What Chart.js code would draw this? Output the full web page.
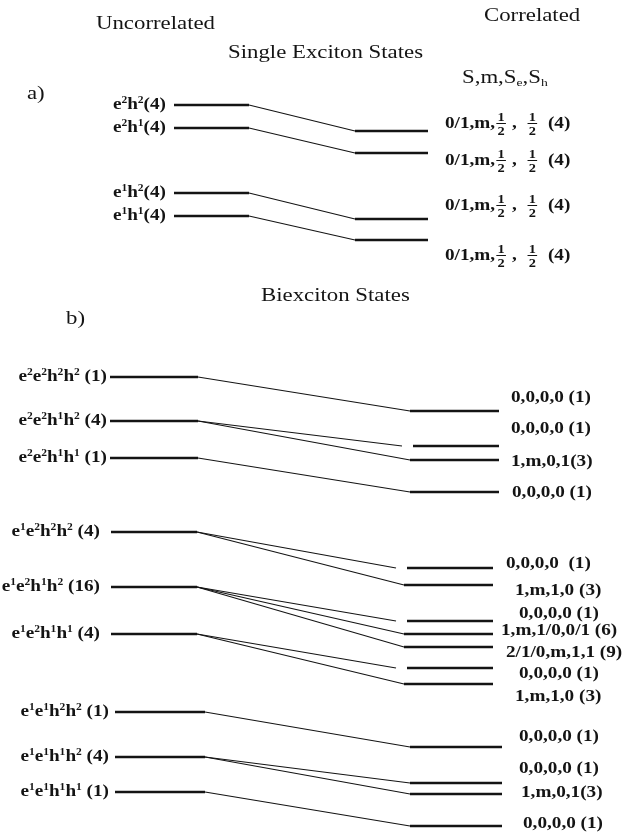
<!DOCTYPE html>
<html>
<head>
<meta charset="utf-8">
<script src="https://cdn.jsdelivr.net/npm/chart.js@4.4.1/dist/chart.umd.min.js"></script>
<style>
  body { margin: 0; background: #fff; }
  #wrap { width: 641px; height: 835px; }
</style>
</head>
<body>
<div id="wrap"><canvas id="levels" width="641" height="835"></canvas></div>
<script>
// data: level energies (same vertical units as the page, downward = lower energy)
// a) single exciton states
const singleUncorr = [105, 128, 193, 216];
const singleCorr = [131, 153, 219, 240];
const singleLinks = [[0, 0], [1, 1], [2, 2], [3, 3]];
const singleUncorrLabels = ["e^2h^2(4)", "e^2h^1(4)", "e^1h^2(4)", "e^1h^1(4)"];
const singleCorrLabels = [
  "0/1,m,{1/2} ,  {1/2}  (4)",
  "0/1,m,{1/2} ,  {1/2}  (4)",
  "0/1,m,{1/2} ,  {1/2}  (4)",
  "0/1,m,{1/2} ,  {1/2}  (4)",
];

// b) biexciton states
const biexUncorr = [377, 421, 458, 532, 587, 634, 712, 757, 792];
const biexCorr = [411, 446, 460, 492, 568, 585, 621, 634, 647, 668, 684, 747, 783, 794, 826];
const biexLinks = [
  [0, 0], [1, 1], [1, 2], [2, 3],
  [3, 4], [3, 5], [4, 6], [4, 7], [4, 8], [5, 9], [5, 10],
  [6, 11], [7, 12], [7, 13], [8, 14],
];
const biexUncorrLabels = [
  "e^2e^2h^2h^2 (1)", "e^2e^2h^1h^2 (4)", "e^2e^2h^1h^1 (1)",
  "e^1e^2h^2h^2 (4)", "e^1e^2h^1h^2 (16)", "e^1e^2h^1h^1 (4)",
  "e^1e^1h^2h^2 (1)", "e^1e^1h^1h^2 (4)", "e^1e^1h^1h^1 (1)",
];
const biexCorrLabels = [
  "0,0,0,0 (1)", "0,0,0,0 (1)", "1,m,0,1(3)", "0,0,0,0 (1)",
  "0,0,0,0  (1)", "1,m,1,0 (3)", "0,0,0,0 (1)", "1,m,1/0,0/1 (6)", "2/1/0,m,1,1 (9)",
  "0,0,0,0 (1)", "1,m,1,0 (3)",
  "0,0,0,0 (1)", "0,0,0,0 (1)", "1,m,0,1(3)", "0,0,0,0 (1)",
];
// singlet lines whose connector stops short of the level
const biexGapped = [1, 4, 6, 9];

// layout
const INK = "#141414";
const SX = 1.2; // the scan is a bit wide
const cols = {
  a: { L: [174, 249], R: [355, 428] },
  b1: { L: [110, 198], R: [410, 499] },
  b2: { L: [111, 197], R: [404, 493] },
  b3: { L: [115, 205], R: [410, 502] },
};
const biexUncorrCol = ["b1", "b1", "b1", "b2", "b2", "b2", "b3", "b3", "b3"];
const biexCorrCol = ["b1", "b1", "b1", "b1", "b2", "b2", "b2", "b2", "b2", "b2", "b2", "b3", "b3", "b3", "b3"];
const biexUncorrLabelX = [107, 107, 107, 100, 100, 100, 109, 109, 109];
const biexCorrLabelX = [511, 511, 511, 512, 506, 515, 519, 501, 506, 519, 515, 519, 519, 521, 523];
const biexCorrLabelY = [397, 428, 461, 492, 563, 590, 613, 630, 652, 673, 696, 736, 768, 792, 823];
const singleCorrLabelY = [123, 160, 205, 255];

const titles = [
  { t: "Uncorrelated", x: 96, y: 23 },
  { t: "Correlated", x: 484, y: 15 },
  { t: "Single Exciton States", x: 228, y: 52 },
  { t: "S,m,S_e,S_h", x: 462, y: 77 },
  { t: "a)", x: 27, y: 93 },
  { t: "Biexciton States", x: 261, y: 295 },
  { t: "b)", x: 66, y: 318 },
];

// build datasets
const datasets = [];
const level = (x0, x1, y) => datasets.push({
  data: [{ x: x0, y: y }, { x: x1, y: y }],
  borderColor: INK, borderWidth: 2.6,
});
const link = (x0, y0, x1, y1) => datasets.push({
  data: [{ x: x0, y: y0 }, { x: x1, y: y1 }],
  borderColor: INK, borderWidth: 1.2,
});

singleUncorr.forEach((y) => level(cols.a.L[0], cols.a.L[1], y));
singleCorr.forEach((y) => level(cols.a.R[0], cols.a.R[1], y));
singleLinks.forEach(([i, j]) => link(cols.a.L[1], singleUncorr[i], cols.a.R[0], singleCorr[j]));

biexUncorr.forEach((y, i) => level(cols[biexUncorrCol[i]].L[0], cols[biexUncorrCol[i]].L[1], y));
biexCorr.forEach((y, i) => {
  const c = cols[biexCorrCol[i]];
  level(c.R[0] + (biexGapped.includes(i) ? 3 : 0), c.R[1], y);
});
biexLinks.forEach(([i, j]) => {
  const end = cols[biexCorrCol[j]].R[0] - (biexGapped.includes(j) ? 8 : 0);
  link(cols[biexUncorrCol[i]].L[1], biexUncorr[i], end, biexCorr[j]);
});

// rich text: ^x superscript, _x subscript, {a/b} stacked fraction
function parseRich(s) {
  const out = [];
  let i = 0;
  while (i < s.length) {
    const c = s[i];
    if (c === "^" || c === "_") {
      out.push({ kind: c === "^" ? "sup" : "sub", t: s[i + 1] });
      i += 2;
    } else if (c === "{") {
      const j = s.indexOf("}", i);
      const [a, b] = s.slice(i + 1, j).split("/");
      out.push({ kind: "frac", a: a, b: b });
      i = j + 1;
    } else {
      let j = i;
      while (j < s.length && !"^_{".includes(s[j])) j++;
      out.push({ kind: "txt", t: s.slice(i, j) });
      i = j;
    }
  }
  return out;
}

function drawRich(ctx, s, x, y, opt) {
  const size = opt.size, fam = opt.family, wt = opt.weight;
  const f = (px) => wt + " " + px + "px " + fam;
  const parts = parseRich(s);
  ctx.save();
  let w = 0;
  parts.forEach((p) => {
    if (p.kind === "txt") { ctx.font = f(size); p.w = ctx.measureText(p.t).width; }
    else if (p.kind === "frac") {
      ctx.font = f(size * 0.75);
      p.w = Math.max(ctx.measureText(p.a).width, ctx.measureText(p.b).width) + 4;
    } else { ctx.font = f(size * 0.6); p.w = ctx.measureText(p.t).width; }
    w += p.w;
  });
  ctx.translate(x, y);
  ctx.scale(SX, 1);
  let cx = opt.align === "right" ? -w : 0;
  ctx.fillStyle = INK;
  ctx.strokeStyle = INK;
  ctx.textBaseline = "alphabetic";
  const base = size * 0.34;
  parts.forEach((p) => {
    if (p.kind === "txt") {
      ctx.font = f(size);
      ctx.fillText(p.t, cx, base);
    } else if (p.kind === "sup") {
      ctx.font = f(size * 0.6);
      ctx.fillText(p.t, cx, base - size * 0.38);
    } else if (p.kind === "sub") {
      ctx.font = f(size * 0.6);
      ctx.fillText(p.t, cx, base + size * 0.15);
    } else {
      ctx.font = f(size * 0.75);
      ctx.textAlign = "center";
      ctx.fillText(p.a, cx + p.w / 2, -2);
      ctx.fillText(p.b, cx + p.w / 2, size * 0.72);
      ctx.textAlign = "left";
      ctx.lineWidth = 1;
      ctx.beginPath();
      ctx.moveTo(cx + 1, 0.5);
      ctx.lineTo(cx + p.w - 1, 0.5);
      ctx.stroke();
    }
    cx += p.w;
  });
  ctx.restore();
}

const SERIF = "'Liberation Serif', 'DejaVu Serif', serif";
const labelFont = { size: 16, family: SERIF, weight: "bold" };

const textPlugin = {
  id: "levelText",
  afterDraw(chart) {
    const ctx = chart.ctx;
    const xs = chart.scales.x, ys = chart.scales.y;
    const px = (v) => xs.getPixelForValue(v);
    const py = (v) => ys.getPixelForValue(v);

    titles.forEach((t) => drawRich(ctx, t.t, px(t.x), py(t.y),
      { size: 19, family: SERIF, weight: "normal", align: "left" }));

    singleUncorr.forEach((y, i) => drawRich(ctx, singleUncorrLabels[i], px(166), py(y - 1),
      Object.assign({ align: "right" }, labelFont)));
    singleCorr.forEach((y, i) => drawRich(ctx, singleCorrLabels[i], px(445), py(singleCorrLabelY[i]),
      Object.assign({ align: "left" }, labelFont)));

    biexUncorr.forEach((y, i) => drawRich(ctx, biexUncorrLabels[i], px(biexUncorrLabelX[i]), py(y - 1),
      Object.assign({ align: "right" }, labelFont)));
    biexCorr.forEach((y, i) => drawRich(ctx, biexCorrLabels[i], px(biexCorrLabelX[i]), py(biexCorrLabelY[i]),
      Object.assign({ align: "left" }, labelFont)));
  },
};

new Chart(document.getElementById("levels"), {
  type: "scatter",
  data: { datasets: datasets },
  options: {
    responsive: false,
    animation: false,
    devicePixelRatio: 1,
    showLine: true,
    elements: { point: { radius: 0, hoverRadius: 0 }, line: { tension: 0 } },
    layout: { padding: 0 },
    plugins: { legend: { display: false }, tooltip: { enabled: false } },
    scales: {
      x: { type: "linear", min: 0, max: 641, display: false },
      y: { type: "linear", min: 0, max: 835, reverse: true, display: false },
    },
  },
  plugins: [textPlugin],
});
</script>
</body>
</html>
